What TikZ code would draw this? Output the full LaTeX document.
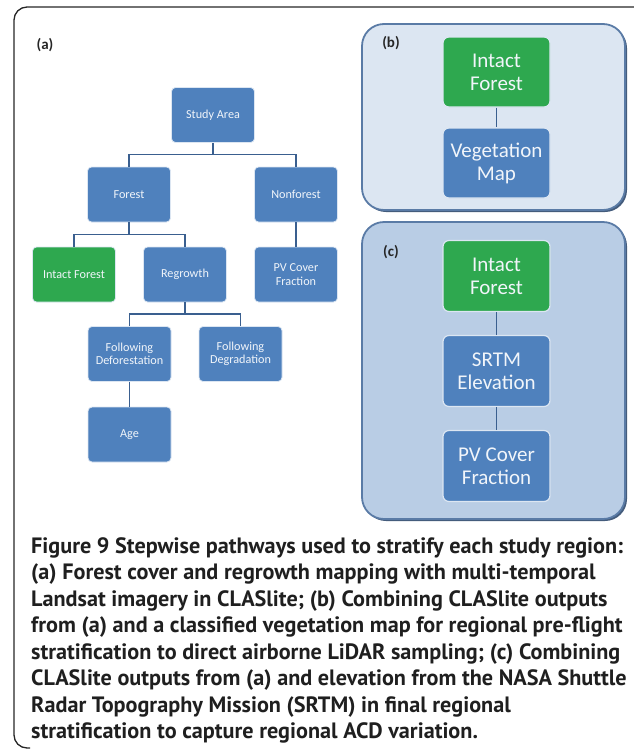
\documentclass[tikz,border=0pt]{standalone}
\usepackage{fontspec}
\setmainfont{PT Sans}
\newfontfamily\boxfont{Carlito}
\definecolor{boxblue}{HTML}{4F81BD}
\definecolor{boxgreen}{HTML}{2EA84F}
\definecolor{linkblue}{HTML}{3A5F8F}
\definecolor{panelline}{HTML}{5A7BA6}
\definecolor{panelbfill}{HTML}{DCE6F2}
\definecolor{panelcfill}{HTML}{B9CDE5}

\def\panelb{(362,24) rectangle (625,210)}
\def\panelc{(362,222) rectangle (625,519)}

\tikzset{
  treebox/.style={draw=white!80!boxblue, line width=0.8pt, rounded corners=4pt,
    minimum width=83pt, minimum height=55pt, align=center, inner sep=1pt,
    text=white!92!boxblue, font=\boxfont\fontsize{12.2}{13.5}\selectfont},
  stackbox/.style={treebox, minimum width=107pt, minimum height=71pt,
    rounded corners=6pt, line width=1.2pt, font=\boxfont\fontsize{21}{23}\selectfont},
  link/.style={draw=linkblue, line width=1.3pt},
  panel/.style={draw=panelline, line width=1.8pt, rounded corners=22pt},
  tag/.style={font=\boxfont\bfseries\fontsize{15}{17}\selectfont, text=black!85}
}

\begin{document}
\begin{tikzpicture}[x=1pt, y=-1pt]
    \useasboundingbox (0,0) rectangle (633,750);

    % outer frame
    \draw[line width=1.3pt, black!85, rounded corners=13pt] (640,7) -- (14,7) -- (14,748) -- (30,748);

    % (a) tree
    \node[tag] (taga) at (45,45) {(a)};
    \node[treebox, fill=boxblue] (study) at (213,115) {Study Area};
    \node[treebox, fill=boxblue] (forest) at (129,194.5) {Forest};
    \node[treebox, fill=boxblue] (nonforest) at (296,194.5) {Nonforest};
    \node[treebox, fill=boxgreen] (intact) at (74,274.5) {Intact Forest};
    \node[treebox, fill=boxblue] (regrowth) at (185,274.5) {Regrowth};
    \node[treebox, fill=boxblue] (pvcover) at (296,274.5) {PV Cover\\Fraction};
    \node[treebox, fill=boxblue] (defor) at (129.5,354) {Following\\Deforestation};
    \node[treebox, fill=boxblue] (degrad) at (240.5,354) {Following\\Degradation};
    \node[treebox, fill=boxblue] (age) at (129.5,434.5) {Age};

    \draw[link] (study.south) -- ++(0,12);
    \draw[link] (forest.north) -- ++(0,-12) -| (nonforest.north);
    \draw[link] (forest.south) -- ++(0,13);
    \draw[link] (intact.north) -- ++(0,-12) -| (regrowth.north);
    \draw[link] (nonforest.south) -- (pvcover.north);
    \draw[link] (regrowth.south) -- ++(0,13);
    \draw[link] (defor.north) -- ++(0,-12) -| (degrad.north);
    \draw[link] (defor.south) -- (age.north);

    % (b) panel
    \fill[panelline!75!black, rounded corners=22pt] (364,26) rectangle (627,212);
    \draw[panel, fill=panelbfill] \panelb;
    \node[tag] (tagb) at (391,43) {(b)};
    \node[stackbox, fill=boxgreen, minimum height=70pt] (intactb) at (496.5,72) {Intact\\Forest};
    \node[stackbox, fill=boxblue, minimum height=70pt] (vegmap) at (496.5,163) {Vegetation\\Map};
    \draw[link] (intactb.south) -- (vegmap.north);

    % (c) panel
    \fill[panelline!75!black, rounded corners=22pt] (364,224) rectangle (627,521);
    \draw[panel, fill=panelcfill] \panelc;
    \node[tag] (tagc) at (391,252) {(c)};
    \node[stackbox, fill=boxgreen] (intactc) at (496.5,276) {Intact\\Forest};
    \node[stackbox, fill=boxblue] (srtm) at (496.5,371) {SRTM\\Elevation};
    \node[stackbox, fill=boxblue] (pvc) at (496.5,466) {PV Cover\\Fraction};
    \draw[link] (intactc.south) -- (srtm.north);
    \draw[link] (srtm.south) -- (pvc.north);

    % caption
    \node[anchor=north west, align=left, inner sep=0pt, text=black!88,
      font=\bfseries\fontsize{22.2}{26.5}\selectfont] (caption) at (31,537)
      {Figure 9 Stepwise pathways used to stratify each study region:\\
       (a) Forest cover and regrowth mapping with multi-temporal\\
       Landsat imagery in CLASlite; (b) Combining CLASlite outputs\\
       from (a) and a classified vegetation map for regional pre-flight\\
       stratification to direct airborne LiDAR sampling; (c) Combining\\
       CLASlite outputs from (a) and elevation from the NASA Shuttle\\
       Radar Topography Mission (SRTM) in final regional\\
       stratification to capture regional ACD variation.};
\end{tikzpicture}
\end{document}
